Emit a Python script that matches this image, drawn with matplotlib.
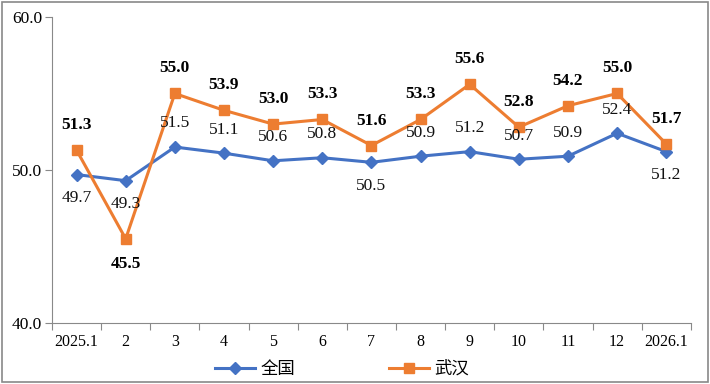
import matplotlib.pyplot as plt
from matplotlib.patches import Rectangle

CATEGORIES = ["2025.1", "2", "3", "4", "5", "6", "7", "8", "9", "10", "11", "12", "2026.1"]
NATIONAL = [49.7, 49.3, 51.5, 51.1, 50.6, 50.8, 50.5, 50.9, 51.2, 50.7, 50.9, 52.4, 51.2]
WUHAN = [51.3, 45.5, 55.0, 53.9, 53.0, 53.3, 51.6, 53.3, 55.6, 52.8, 54.2, 55.0, 51.7]
# label above (+1) or below (-1) the point
NATIONAL_POS = [-1, -1, 1, 1, 1, 1, -1, 1, 1, 1, 1, 1, -1]
WUHAN_POS = [1, -1, 1, 1, 1, 1, 1, 1, 1, 1, 1, 1, 1]

BLUE = '#4472C4'
ORANGE = '#ED7D31'
GRAY = '#898989'

SERIF = ['Liberation Serif', 'DejaVu Serif']
CJK = ['Noto Sans CJK SC', 'DejaVu Sans']

fig = plt.figure(figsize=(7.1, 3.84), dpi=100)
ax = fig.add_axes([0.0732, 0.159, 0.8998, 0.7967])

x = list(range(len(CATEGORIES)))
ax.plot(x, NATIONAL, color=BLUE, lw=2.2, marker='D', ms=6, label='全国')
ax.plot(x, WUHAN, color=ORANGE, lw=2.2, marker='s', ms=7, label='武汉')

for xi, v, p in zip(x, NATIONAL, NATIONAL_POS):
    ax.annotate(f"{v:.1f}", (xi, v), xytext=(0, 17 * p), textcoords='offset points',
                ha='center', va='center', fontsize=12.5, family=SERIF, color='#111111')
for xi, v, p in zip(x, WUHAN, WUHAN_POS):
    ax.annotate(f"{v:.1f}", (xi, v), xytext=(0, 18 * p), textcoords='offset points',
                ha='center', va='center', fontsize=12.5, family=SERIF, fontweight='bold')

ax.set_xlim(-0.5, len(CATEGORIES) - 0.5)
ax.set_ylim(40, 60)
ax.set_yticks([40, 50, 60])
ax.set_yticklabels([f"{t:.1f}" for t in [40, 50, 60]], family=SERIF, fontsize=12.5)
ax.set_xticks([i - 0.5 for i in range(len(CATEGORIES) + 1)])
ax.set_xticklabels([])
ax.set_xticks(x, minor=True)
ax.set_xticklabels(CATEGORIES, minor=True, family=SERIF, fontsize=11.5)
ax.tick_params(axis='x', which='minor', length=0, pad=8)
ax.tick_params(axis='x', which='major', length=5, color=GRAY)
ax.tick_params(axis='y', length=5, color=GRAY, pad=2)

for s in ['top', 'right']:
    ax.spines[s].set_visible(False)
for s in ['left', 'bottom']:
    ax.spines[s].set_color(GRAY)

leg = fig.legend(loc='lower center', bbox_to_anchor=(0.482, -0.025), ncol=2, frameon=False,
                 prop={'family': CJK, 'size': 12.5}, columnspacing=5.4, handlelength=2.3,
                 handletextpad=0.3)

fig.patches.append(Rectangle((0.003, 0.004), 0.994, 0.992, transform=fig.transFigure,
                             fill=False, edgecolor=GRAY, lw=1.2))

fig.savefig('out.png', dpi=100)
